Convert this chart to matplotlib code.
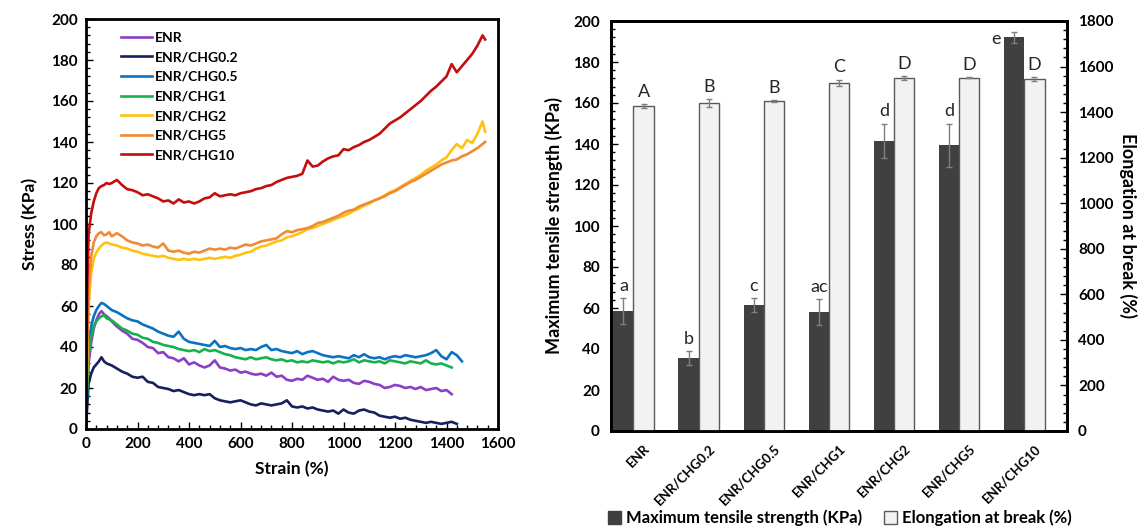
import matplotlib.pyplot as plt
from matplotlib.patches import Patch
from matplotlib.ticker import MultipleLocator

plt.rcParams['font.family'] = ['Lato', 'DejaVu Sans']
plt.rcParams['font.weight'] = 'bold'

# ---- stress-strain curves ----
strain = [0, 5, 10, 20, 30, 40, 50, 60, 70, 80, 90, 100,
          120, 140, 160, 180, 200, 220, 240, 260, 280, 300, 320, 340, 360, 380,
          400, 420, 440, 460, 480, 500, 520, 540, 560, 580, 600, 620, 640, 660,
          680, 700, 720, 740, 760, 780, 800, 820, 840, 860, 880, 900, 920, 940,
          960, 980, 1000, 1020, 1040, 1060, 1080, 1100, 1120, 1140, 1160, 1180,
          1200, 1220, 1240, 1260, 1280, 1300, 1320, 1340, 1360, 1380, 1400, 1420,
          1440, 1460, 1480, 1500, 1520, 1540, 1550]

enr = [0, 18, 32, 42, 49, 53, 56, 57.5, 56, 55, 54, 52.5,
       50, 48, 46.5, 44, 43.5, 42, 40, 39.5, 37, 37.5, 35, 34.5, 33, 34.5,
       31.5, 32.5, 31, 30, 31, 33.5, 30, 29.5, 28.5, 29, 27.5, 28, 27, 26.5,
       27, 26, 27.5, 25.5, 26, 24, 23.5, 24.5, 24, 26, 25, 24, 24.5, 23,
       25.5, 24, 23.5, 24, 22.5, 22, 23.5, 23, 22, 21.5, 20, 20.5,
       21.5, 21, 20, 20.5, 19.5, 20.5, 19, 19.5, 20, 18.5, 19, 17]

chg02 = [0, 12, 22, 27, 30, 31.5, 33, 35, 33, 32, 31.5, 31,
         29.5, 28, 27, 25.5, 25, 25.5, 23, 22.5, 20.5, 20, 19.5, 18.5, 19, 18,
         17, 16.5, 17, 16.5, 17, 15, 14, 13.5, 13, 13.5, 14, 13, 12, 11.5,
         12.5, 12, 11.5, 12, 12.5, 14, 11, 10.5, 11, 10, 10.5, 9.5, 9, 8.5,
         9, 7.5, 9.5, 8, 7.5, 9, 9.5, 8.5, 8, 6.5, 6, 5.5,
         6, 5, 5.5, 4.5, 4, 3.5, 3, 3.5, 3, 2.5, 3, 3.5, 2.5]

chg05 = [0, 25, 40, 50, 55, 58, 60, 61.5, 61, 60, 59, 58,
         57, 55.5, 54, 53, 52.5, 51, 50, 49, 47.5, 46.5, 45.5, 45, 47.5, 44,
         42.5, 42, 41.5, 41, 40.5, 43, 40, 40.5, 39.5, 39, 39.5, 38.5, 39, 38.5,
         40, 41, 38.5, 39, 38, 37.5, 37, 38, 36.5, 37.5, 38, 37, 36, 35.5,
         35, 35.5, 35, 34.5, 36, 35, 36.5, 35, 34.5, 35, 34, 35,
         35.5, 35, 36, 35.5, 35, 35.5, 36, 37, 38.5, 35.5, 34, 37.5, 36, 33]

chg1 = [0, 22, 36, 45, 50, 52.5, 54, 55, 55.5, 54, 53.5, 53,
        51, 49, 48, 46.5, 46, 44.5, 44, 42.5, 42, 41, 40.5, 40, 39, 38.5,
        38, 38.5, 37.5, 39, 38, 38.5, 37.5, 36.5, 36, 35, 34.5, 34, 35, 34,
        34.5, 35, 34, 33.5, 34, 33, 33.5, 32.5, 33, 32.5, 33.5, 33, 32.5, 33,
        32, 33, 32.5, 33, 34, 32.5, 33.5, 33, 32.5, 33, 32, 33.5,
        33, 32.5, 32, 33, 32.5, 32, 33.5, 32, 31.5, 32, 31, 30]

chg2 = [0, 35, 60, 76, 83, 86, 88, 89.5, 90.5, 91, 90.5, 90,
        89.5, 88.5, 88, 87, 86.5, 85.5, 85, 84.5, 84, 84.5, 83.5, 83, 82.5, 83,
        82.5, 83, 82.5, 83, 83.5, 83, 83.5, 84, 83.5, 84.5, 85, 86, 86.5, 88,
        89, 89.5, 90.5, 91.5, 92, 93.5, 94, 95, 96, 97.5, 98, 99, 100, 101,
        102, 103, 104, 105, 106.5, 107.5, 109, 110, 111.5, 112.5, 114, 115.5,
        116.5, 118, 119.5, 121, 122.5, 124, 126, 127.5, 129, 131, 132.5, 136,
        139, 137, 141, 139.5, 144, 150, 145]

chg5 = [0, 40, 68, 84, 91, 94, 95.5, 96, 94.5, 95, 96, 94,
        95.5, 94, 92, 91, 90.5, 89.5, 90, 89, 88.5, 90.5, 87, 86.5, 87, 86,
        85.5, 86.5, 86, 87, 88, 87.5, 88, 87.5, 88.5, 88, 89, 90, 89.5, 90.5,
        91.5, 92, 92.5, 93, 95, 96.5, 96, 97, 97.5, 98, 99, 100.5, 101, 102,
        103, 104, 105.5, 106.5, 107, 108.5, 109.5, 110.5, 111.5, 112.5, 113.5, 115,
        116, 117.5, 119, 120.5, 121.5, 123, 124.5, 126, 127.5, 129, 130, 131,
        131.5, 133, 134, 135.5, 137, 139, 140]

chg10 = [0, 70, 95, 105, 111, 115, 117.5, 118.5, 119, 120, 119.5, 120,
         121.5, 119, 117, 116.5, 115.5, 114, 114.5, 113.5, 112.5, 111, 111.5, 110, 112, 110.5,
         111, 110, 111, 112.5, 113, 115, 113.5, 114, 114.5, 114, 115, 115.5, 116, 117,
         117.5, 118.5, 119, 120.5, 121.5, 122.5, 123, 123.5, 124.5, 131, 128, 128.5, 130.5, 132,
         133, 133.5, 136.5, 136, 137.5, 138.5, 140, 141, 142.5, 144, 146.5, 149,
         150.5, 152, 154, 156, 158, 160, 162.5, 165, 167, 169.5, 172, 178,
         174, 177, 180, 183, 187, 192, 190]

curve_labels = ['ENR', 'ENR/CHG0.2', 'ENR/CHG0.5', 'ENR/CHG1', 'ENR/CHG2', 'ENR/CHG5', 'ENR/CHG10']
curve_data = [enr, chg02, chg05, chg1, chg2, chg5, chg10]
curve_colors = ['#8a3fc4', '#14215e', '#0a72c2', '#17b04e', '#ffc20e', '#f08a35', '#c40d0d']

# ---- bar chart data ----
samples = ['ENR', 'ENR/CHG0.2', 'ENR/CHG0.5', 'ENR/CHG1', 'ENR/CHG2', 'ENR/CHG5', 'ENR/CHG10']
tensile = [58.5, 35.5, 61.5, 58, 141.5, 139.5, 192]
tensile_err = [6.5, 3.5, 3.5, 6.5, 8.5, 10.5, 2.5]
elongation = [1427, 1440, 1449, 1528, 1550, 1551, 1544]
elongation_err = [10, 18, 5, 15, 8, 3, 8]
tensile_letters = ['a', 'b', 'c', 'ac', 'd', 'd', 'e']
elong_letters = ['A', 'B', 'B', 'C', 'D', 'D', 'D']

fig = plt.figure(figsize=(11.48, 5.29), dpi=100)

# ---------------- left panel ----------------
ax1 = fig.add_axes([86 / 1148, 1 - 429 / 529, 412 / 1148, 410 / 529])
for lab, ys, col in zip(curve_labels, curve_data, curve_colors):
    ax1.plot(strain[:len(ys)], ys, color=col, lw=1.9, label=lab)
ax1.set_xlim(0, 1600)
ax1.set_ylim(0, 200)
ax1.xaxis.set_major_locator(MultipleLocator(200))
ax1.xaxis.set_minor_locator(MultipleLocator(40))
ax1.yaxis.set_major_locator(MultipleLocator(20))
ax1.yaxis.set_minor_locator(MultipleLocator(4))
ax1.tick_params(which='both', direction='in', width=1)
ax1.tick_params(which='major', length=5, labelsize=11, pad=6)
ax1.tick_params(which='minor', length=3)
for sp in ax1.spines.values():
    sp.set_linewidth(2)
ax1.set_xlabel('Strain (%)', fontsize=12.5, fontweight='bold', labelpad=7)
ax1.set_ylabel('Stress (KPa)', fontsize=12.5, fontweight='bold', labelpad=9)
ax1.legend(loc='upper left', bbox_to_anchor=(0.055, 1.0), frameon=False,
           fontsize=10, handlelength=2.2, handletextpad=0.2, labelspacing=0.55)

# ---------------- right panel ----------------
ax2 = fig.add_axes([611 / 1148, 1 - 431 / 529, 456 / 1148, 410 / 529])
ax3 = ax2.twinx()
slots = list(range(len(samples)))
dark_x = [s + 0.19 for s in slots]
light_x = [s + 0.5 for s in slots]
ax2.bar(dark_x, tensile, width=0.31, color='#404040', zorder=2)
ax2.errorbar(dark_x, tensile, yerr=tensile_err, fmt='none', ecolor='#7f7f7f',
             elinewidth=1, capsize=2.5, zorder=3)
ax3.bar(light_x, elongation, width=0.31, color='#f2f2f2', edgecolor='#595959',
        linewidth=1, zorder=2)
ax3.errorbar(light_x, elongation, yerr=elongation_err, fmt='none', ecolor='#7f7f7f',
             elinewidth=1, capsize=2.5, zorder=3)

ax2.set_xlim(0, 7)
ax2.set_ylim(0, 200)
ax3.set_ylim(0, 1800)
ax2.set_xticks([s + 0.5 for s in slots])
ax2.set_xticklabels(samples, rotation=45, ha='right', rotation_mode='anchor',
                    fontsize=9.5, fontweight='bold')
ax2.tick_params(axis='x', length=0, pad=8)
ax2.yaxis.set_major_locator(MultipleLocator(20))
ax2.yaxis.set_minor_locator(MultipleLocator(4))
ax3.yaxis.set_major_locator(MultipleLocator(200))
ax3.yaxis.set_minor_locator(MultipleLocator(40))
for a in (ax2, ax3):
    a.tick_params(axis='y', which='both', direction='in', width=1)
    a.tick_params(axis='y', which='major', length=5, labelsize=11, pad=8)
    a.tick_params(axis='y', which='minor', length=3)
    for sp in a.spines.values():
        sp.set_linewidth(2)
ax2.set_ylabel('Maximum tensile strength (KPa)', fontsize=13, fontweight='bold', labelpad=7)
ax3.set_ylabel('Elongation at break (%)', fontsize=13, fontweight='bold',
               rotation=270, labelpad=17)

for i in slots:
    top = tensile[i] + tensile_err[i]
    if tensile_letters[i] == 'e':
        ax2.text(dark_x[i] - 0.2, top - 3.5, 'e', ha='right', va='center',
                 fontsize=13, fontweight='normal', color='#262626')
    else:
        ax2.annotate(tensile_letters[i], (dark_x[i], top), xytext=(0, 3),
                     textcoords='offset points', ha='center', va='bottom',
                     fontsize=13, fontweight='normal', color='#262626')
    ax3.annotate(elong_letters[i], (light_x[i], elongation[i] + elongation_err[i]),
                 xytext=(0, 3), textcoords='offset points', ha='center', va='bottom',
                 fontsize=13, fontweight='normal', color='#262626')

handles = [Patch(facecolor='#404040', edgecolor='#404040'),
           Patch(facecolor='#f2f2f2', edgecolor='#595959')]
fig.legend(handles, ['Maximum tensile strength (KPa)', 'Elongation at break (%)'],
           loc='center', bbox_to_anchor=(840 / 1148, 1 - 518 / 529), ncol=2,
           frameon=False, fontsize=12, handlelength=0.8, handleheight=0.8,
           handletextpad=0.3, columnspacing=1.3)

fig.savefig('out.png', dpi=100)
